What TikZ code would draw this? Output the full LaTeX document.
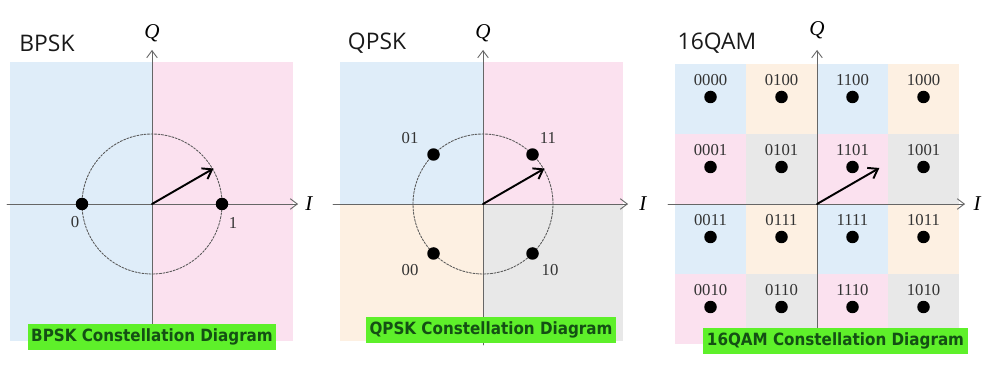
\documentclass[tikz,border=0pt]{standalone}
\usepackage{fontspec}
\setmainfont{Liberation Serif}
\newfontfamily\titlefont{Open Sans}
\newfontfamily\capfont{DejaVu Sans Condensed}
\usetikzlibrary{arrows.meta,positioning}
\definecolor{qblue}{HTML}{DFEDF9}
\definecolor{qpink}{HTML}{FBE1EF}
\definecolor{qpeach}{HTML}{FDF0E2}
\definecolor{qgray}{HTML}{E8E8E8}
\definecolor{capgreen}{HTML}{5EF02A}
\definecolor{capdark}{HTML}{145014}

\begin{document}
\begin{tikzpicture}[x=0.02cm,y=0.02cm,line cap=round,line join=round,
  axis/.style={draw=black!60,line width=0.5pt,-{Straight Barb[length=4pt,width=6pt]}},
  vec/.style={line width=1.1pt,-{Straight Barb[length=5pt,width=7pt]}},
  ring/.style={draw=black!65,line width=0.5pt,dash pattern=on 1.2pt off 0.8pt},
  dot/.style={circle,fill=black,inner sep=0pt,minimum size=0.25cm},
  lbl/.style={inner sep=0pt,text=black!80,font=\fontsize{9.5}{10}\selectfont},
  axlbl/.style={inner sep=0pt,font=\itshape\fontsize{12}{14}\selectfont},
  title/.style={inner sep=0pt,text=black!90,font=\titlefont\fontsize{13}{15}\selectfont},
  caption/.style={fill=capgreen,text=capdark,inner xsep=2pt,inner ysep=2.5pt,
    font=\capfont\bfseries\fontsize{9.6}{11}\selectfont}]
  \useasboundingbox (0,0) rectangle (997,365);

  % BPSK
  \begin{scope}[shift={(152,161)}]
    \fill[qblue] (-142,-137) rectangle (0,142);
    \fill[qpink] (0,-137) rectangle (141,142);
    \coordinate (O1) at (0,0);
    \coordinate (w1) at (-145,0);
    \coordinate (e1) at (146,0);
    \coordinate (s1) at (0,-129);
    \coordinate (n1) at (0,154);
    \coordinate (tip1) at (30:71);
    \draw[axis] (w1) -- (e1);
    \draw[axis] (s1) -- (n1);
    \node[axlbl] (I1) at (157,0) {I};
    \node[axlbl] (Q1) at (0,171) {Q};
    \draw[ring] (O1) circle (70);
    \node[dot] (b0) at (-70,0) {};
    \node[dot] (b1) at (70,0) {};
    \node[lbl] (lb0) at (-77,-18) {0};
    \node[lbl] (lb1) at (81,-19) {1};
    \draw[vec] (O1) -- (tip1);
    \node[title] (t1) at (-105,161) {BPSK};
    \node[caption] (c1) at (0,-133) {BPSK Constellation Diagram};
  \end{scope}

  % QPSK
  \begin{scope}[shift={(483,161)}]
    \fill[qblue] (-143,0) rectangle (0,142);
    \fill[qpink] (0,0) rectangle (140,142);
    \fill[qpeach] (-143,-137) rectangle (0,0);
    \fill[qgray] (0,-137) rectangle (140,0);
    \coordinate (O2) at (0,0);
    \coordinate (w2) at (-150,0);
    \coordinate (e2) at (145,0);
    \coordinate (s2) at (0,-141);
    \coordinate (n2) at (0,154);
    \coordinate (tip2) at (30:71);
    \draw[axis] (w2) -- (e2);
    \draw[axis] (s2) -- (n2);
    \node[axlbl] (I2) at (160,0) {I};
    \node[axlbl] (Q2) at (0,171) {Q};
    \draw[ring] (O2) circle (70);
    \node[dot] (q01) at (135:70) {};
    \node[dot] (q11) at (45:70) {};
    \node[dot] (q00) at (225:70) {};
    \node[dot] (q10) at (-45:70) {};
    \node[lbl] (lq01) at (-73,66) {01};
    \node[lbl] (lq11) at (65,66) {11};
    \node[lbl] (lq00) at (-73,-66) {00};
    \node[lbl] (lq10) at (67,-66) {10};
    \draw[vec] (O2) -- (tip2);
    \node[title] (t2) at (-106,161) {QPSK};
    \node[caption] (c2) at (8,-126) {QPSK Constellation Diagram};
  \end{scope}

  % 16QAM
  \begin{scope}[shift={(817,161)}]
    \foreach \code [count=\k from 0] in {0000,0100,1100,1000,0001,0101,1101,1001,
        0011,0111,1111,1011,0010,0110,1110,1010}{
      \pgfmathtruncatemacro\col{mod(\k,4)}
      \pgfmathtruncatemacro\row{div(\k,4)}
      \pgfmathsetmacro\cx{-106.5+71*\col}
      \pgfmathsetmacro\cy{105-70*\row}
      \ifodd\row
        \ifodd\col \def\cell{qgray}\else \def\cell{qpink}\fi
      \else
        \ifodd\col \def\cell{qpeach}\else \def\cell{qblue}\fi
      \fi
      \fill[\cell] (\cx-35.5,\cy-35) rectangle (\cx+35.5,\cy+35);
      \node[dot] (m\code) at (\cx,\cy+2) {};
      \node[lbl] (lm\code) at (\cx,\cy+19) {\code};
    }
    \coordinate (O3) at (0,0);
    \coordinate (w3) at (-149,0);
    \coordinate (e3) at (148,0);
    \coordinate (s3) at (0,-129);
    \coordinate (n3) at (0,154);
    \coordinate (tip3) at (30:72);
    \draw[axis] (w3) -- (e3);
    \draw[axis] (s3) -- (n3);
    \node[axlbl] (I3) at (160,0) {I};
    \node[axlbl] (Q3) at (0,174) {Q};
    \draw[vec] (O3) -- (tip3);
    \node[title] (t3) at (-100,161) {16QAM};
    \node[caption] (c3) at (18.5,-137) {16QAM Constellation Diagram};
  \end{scope}
\end{tikzpicture}
\end{document}
